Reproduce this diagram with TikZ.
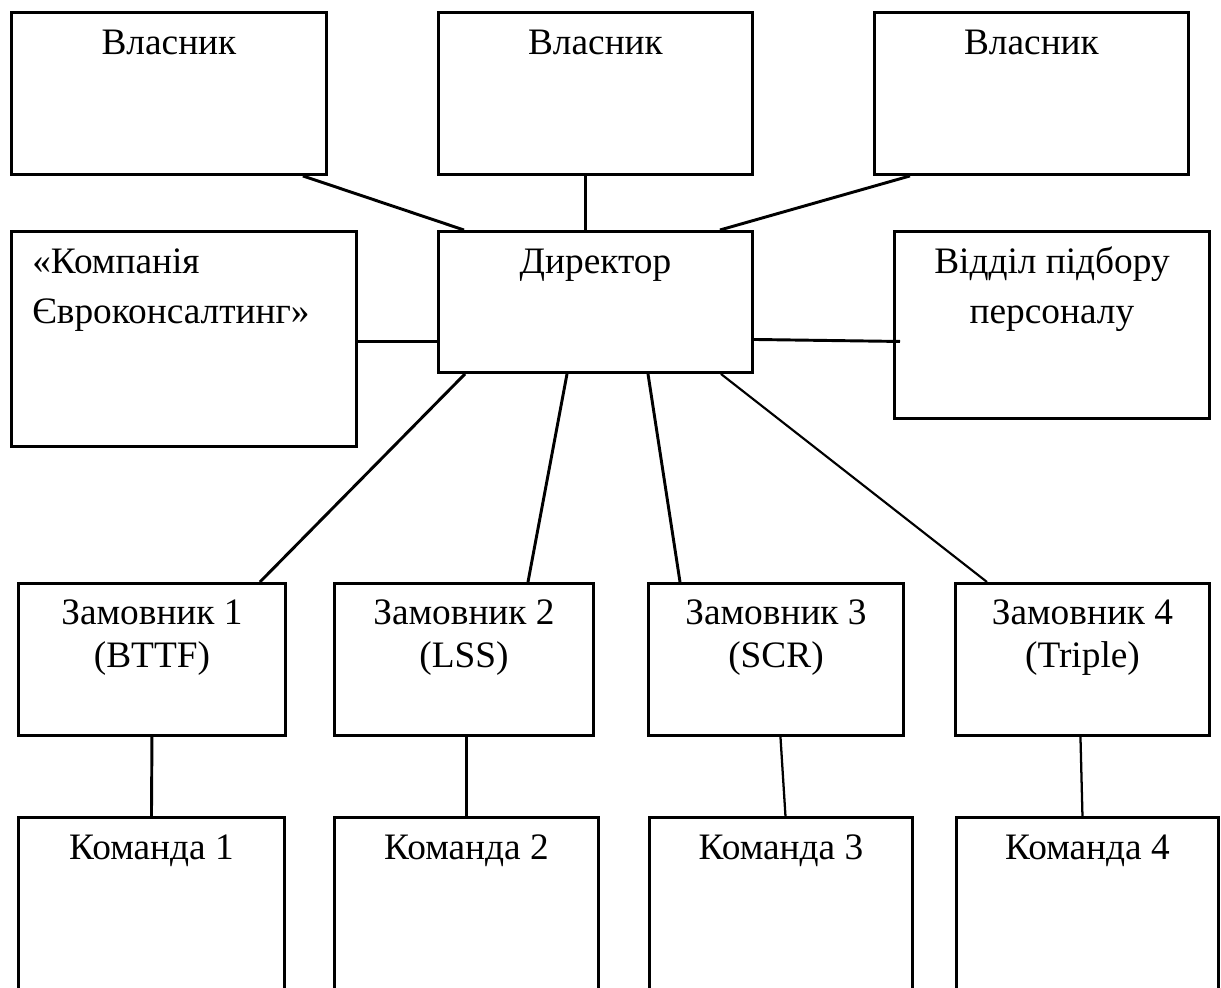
\documentclass[tikz,border=0pt]{standalone}
\usepackage{fontspec}
\setmainfont{Liberation Serif}
\tikzset{
box/.style={draw,line width=2.2pt,anchor=north west,inner sep=0pt},
lbl/.style={font=\fontsize{28}{37.5}\selectfont,inner sep=0pt,anchor=base,align=center},
link/.style={line width=2.2pt}
}
\begin{document}
\begin{tikzpicture}[x=0.75pt,y=-0.75pt]
\clip (0,0) rectangle (1221,988);
% owners
\node[box,minimum width=236.25pt,minimum height=121.5pt] (own1) at (10,11) {};
\node[box,minimum width=235.5pt,minimum height=121.5pt] (own2) at (437,11) {};
\node[box,minimum width=235.5pt,minimum height=121.5pt] (own3) at (873,11) {};
\node[lbl] (own1t) at ([yshift=-33pt]own1.north) {Власник};
\node[lbl] (own2t) at ([yshift=-33pt]own2.north) {Власник};
\node[lbl] (own3t) at ([yshift=-33pt]own3.north) {Власник};
% middle row
\node[box,minimum width=258.75pt,minimum height=161.25pt] (comp) at (10,230) {};
\node[box,minimum width=235.5pt,minimum height=105.75pt] (dir) at (437,230) {};
\node[box,minimum width=236.25pt,minimum height=140.25pt] (hr) at (893,230) {};
% base of a two-line label is its last line
\node[lbl,anchor=base west,align=left] (compt) at ([xshift=16.5pt,yshift=-69.75pt]comp.north west) {«Компанія\\Євроконсалтинг»};
\node[lbl] (dirt) at ([yshift=-32.25pt]dir.north) {Директор};
\node[lbl] (hrt) at ([yshift=-69.75pt]hr.north) {Відділ підбору\\персоналу};
% clients
\node[box,minimum width=200.25pt,minimum height=114pt] (cl1) at (17,582) {};
\node[box,minimum width=194.25pt,minimum height=114pt] (cl2) at (333,582) {};
\node[box,minimum width=191.25pt,minimum height=114pt] (cl3) at (647,582) {};
\node[box,minimum width=190.5pt,minimum height=114pt] (cl4) at (954,582) {};
\tikzset{lbl/.append style={font=\fontsize{28}{32.25}\selectfont}}
\node[lbl] (cl1t) at ([yshift=-63.75pt]cl1.north) {Замовник 1\\(BTTF)};
\node[lbl] (cl2t) at ([yshift=-63.75pt]cl2.north) {Замовник 2\\(LSS)};
\node[lbl] (cl3t) at ([yshift=-63.75pt]cl3.north) {Замовник 3\\(SCR)};
\node[lbl] (cl4t) at ([yshift=-63.75pt]cl4.north) {Замовник 4\\(Triple)};
% teams
\node[box,minimum width=199.5pt,minimum height=138pt] (tm1) at (17,816) {};
\node[box,minimum width=198pt,minimum height=138pt] (tm2) at (333,816) {};
\node[box,minimum width=197.25pt,minimum height=138pt] (tm3) at (648,816) {};
\node[box,minimum width=196.5pt,minimum height=138pt] (tm4) at (955,816) {};
\node[lbl] (tm1t) at ([yshift=-32.25pt]tm1.north) {Команда 1};
\node[lbl] (tm2t) at ([yshift=-32.25pt]tm2.north) {Команда 2};
\node[lbl] (tm3t) at ([yshift=-32.25pt]tm3.north) {Команда 3};
\node[lbl] (tm4t) at ([yshift=-32.25pt]tm4.north) {Команда 4};
% links
\draw[link]([shift={(-25,0)}]own1.south east)--([shift={(27,0)}]dir.north west);
\draw[link]([shift={(-10,0)}]own2.south)--([shift={(-10,0)}]dir.north);
\draw[link]([shift={(37,0)}]own3.south west)--([shift={(-34,0)}]dir.north east);
\draw[link]([shift={(0,2.5)}]comp.east)--([shift={(0,2.5)}]comp.east -| dir.west);
\draw[link]([shift={(0,37.5)}]dir.east)--([shift={(7,16.5)}]hr.west);
\draw[link]([shift={(28,0)}]dir.south west)--([shift={(-27,0)}]cl1.north east);
\draw[link]([shift={(130,0)}]dir.south west)--([shift={(195,0)}]cl2.north west);
\draw[link]([shift={(211,0)}]dir.south west)--([shift={(33,0)}]cl3.north west);
\draw[line width=1.6pt]([shift={(-33,0)}]dir.south east)--([shift={(33,0)}]cl4.north west);
\draw[link](cl1.south)--(tm1.north);
\draw[link](cl2.south -| tm2.north)--(tm2.north);
\draw[line width=1.7pt]([shift={(4.5,0)}]cl3.south)--([shift={(4.5,0)}]tm3.north);
\draw[line width=1.7pt]([shift={(-2,0)}]cl4.south)--([shift={(-5,0)}]tm4.north);
\end{tikzpicture}
\end{document}
